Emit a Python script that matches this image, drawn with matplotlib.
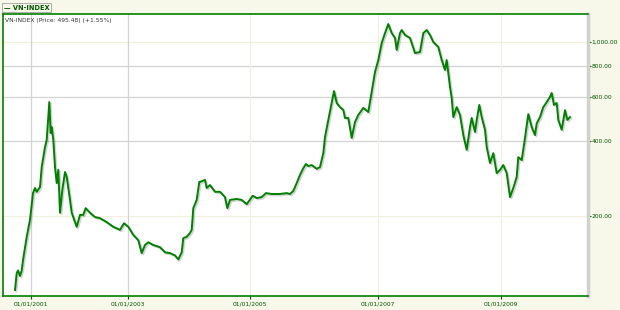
import numpy as np
import matplotlib
matplotlib.use("Agg")
import matplotlib.pyplot as plt
import matplotlib.patheffects as pe
from matplotlib.ticker import FixedLocator, NullLocator

# position along the session axis and closing level of the index
t = [15, 16.7, 18, 20, 21.7, 23, 26.7, 30, 33, 35, 36.7, 40, 41.7, 45, 46.7, 48.3, 49.3,
     50.7, 51.7, 53.3, 55, 56.7, 58.3, 60, 62.3, 65, 66.7, 70, 71.7, 75, 76.7, 80, 83.3,
     85.7, 90, 95, 100, 106.7, 113.3, 120, 124, 128.3, 133.3, 138.3, 141.7, 145, 148.3,
     153.3, 160, 165, 170, 175, 178.3, 181.7, 183.3, 186.7, 190, 191.7, 193.3, 196.7,
     199.3, 200, 205, 206.7, 210, 215, 220, 225, 227.3, 230, 236.7, 241.7, 246.7, 252.7,
     256.7, 261.7, 266, 271.7, 280, 286.7, 290, 293.3, 296.7, 300, 303.3, 306, 308.3,
     311.7, 316.7, 320, 323.3, 325, 328.3, 331.7, 334, 336.7, 340, 343.3, 345, 348.3,
     351.7, 355, 358.3, 363.3, 368.3, 371.7, 375, 378.3, 381.7, 385, 388.3, 391.7, 395,
     396.7, 400, 401.7, 405, 410, 415, 420, 423.3, 426.7, 430, 433.3, 438.3, 441.7, 445,
     446.7, 450, 451.7, 453.3, 456.7, 460, 463.3, 466.7, 470, 471.7, 475, 476.7, 479.3,
     481.7, 485, 486.7, 490, 493.3, 496.7, 500, 503.3, 506.7, 510, 513.3, 516.7, 518.3,
     521.7, 525, 528.3, 531.7, 535, 536.7, 540, 543.3, 546.7, 550, 551.7, 554, 556.7,
     558.3, 561.7, 565, 567.3, 570]
vnindex = [101, 118, 121, 115, 121, 133, 165, 193, 247, 259, 250, 261, 314, 378, 403, 498, 572,
           430, 454, 403, 314, 271, 306, 206, 254, 300, 287, 232, 206, 189, 181, 202, 202,
           215, 206, 198, 196, 189, 181, 176, 187, 181, 168, 160, 142, 153, 157,
           153, 150, 143, 142, 139, 134, 143, 163, 165, 171, 176, 215, 232,
           274, 274, 279, 259, 266, 250, 250, 238, 215, 232, 234, 232, 223, 241,
           236, 238, 247, 245, 245, 247, 245, 252, 271, 292, 311, 323, 317,
           320, 309, 314, 357, 414, 485, 567, 633, 567, 546, 532, 494, 494,
           411, 476, 508, 542, 522, 628, 755, 843, 986, 1081, 1175, 1081, 1033,
           925, 1081, 1112, 1062, 1033, 899, 908, 1081, 1112, 1062, 995, 951, 843, 769,
           843, 657, 594, 498, 546, 508, 422, 368, 454, 494, 434, 485, 557,
           498, 443, 378, 326, 357, 297, 306, 320, 297, 238, 259, 287, 344,
           335, 411, 512, 454, 422, 470, 498, 546, 572, 600, 622, 557, 567,
           485, 443, 531, 485, 498]

x_ticks = [31, 128, 250, 378, 501]
x_labels = ["01/01/2001", "01/01/2003", "01/01/2005", "01/01/2007", "01/01/2009"]
y_ticks = [200, 400, 600, 800, 1000]
y_labels = ["200.00", "400.00", "600.00", "800.00", "1,000.00"]

green = "#008000"
dark = "#005500"
cream = "#f7f7ea"

fig = plt.figure(figsize=(6.2, 3.1), dpi=100, facecolor=cream)
ax = fig.add_axes([3 / 620, 14 / 310, 585 / 620, 282 / 310])
ax.set_facecolor("white")

ax.plot(t, vnindex, color=green, lw=1.4, zorder=3,
        path_effects=[pe.SimpleLineShadow(offset=(1, -1), shadow_color="gray", alpha=0.35), pe.Normal()])

ax.set_yscale("log")
ax.set_xlim(3, 588)
ax.set_ylim(95.6, 1289)

ax.yaxis.set_major_locator(FixedLocator(y_ticks))
ax.yaxis.set_minor_locator(NullLocator())
ax.set_yticklabels(y_labels)
ax.set_xticks(x_ticks)
ax.set_xticklabels(x_labels)

ax.yaxis.tick_right()
ax.tick_params(axis="y", colors=dark, labelsize=4.3, length=2, width=0.8, pad=0.5)
ax.tick_params(axis="x", colors=dark, labelsize=4.3, length=2, width=0.8, pad=2)

# grid: some lines grey, others faint cream like the original
for v in y_ticks:
    c = "#f0f0dc" if v in (200, 1000) else "#d3d3d3"
    ax.axhline(v, color=c, lw=0.9, zorder=1)
for i, v in enumerate(x_ticks):
    c = "#d3d3d3" if i < 2 else "#f0f0dc"
    ax.axvline(v, color=c, lw=0.9, zorder=1)

for s in ["left", "top", "bottom"]:
    ax.spines[s].set_color(green)
    ax.spines[s].set_linewidth(1.2)
ax.spines["right"].set_color("#d0d0d0")
ax.spines["right"].set_linewidth(2.5)

ax.text(0.004, 0.985, "VN-INDEX (Price: 495.48) (+1.55%)", transform=ax.transAxes,
        fontsize=4.3, color="#333333", va="top", ha="left")

fig.text(4 / 620, 1 - 7.5 / 310, "\u2014 VN-INDEX", fontsize=4.8, fontweight="bold", color=dark,
         va="center", ha="left",
         bbox=dict(boxstyle="square,pad=0.25", facecolor=cream, edgecolor="#a0a0a0", lw=0.6))

fig.savefig("out.png", dpi=100, facecolor=cream)
